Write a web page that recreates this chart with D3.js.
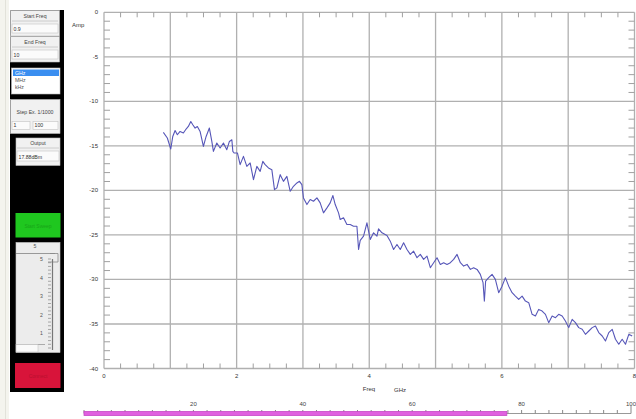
<!DOCTYPE html>
<html><head><meta charset="utf-8">
<script src="https://cdn.jsdelivr.net/npm/d3@7"></script>
<style>body{margin:0;background:#fff}svg{display:block;font-family:"Liberation Sans",Arial,sans-serif}</style>
</head><body><svg id="c" width="636" height="419"></svg>
<script>
// ---- data ----
const freqGHz = [0.895,0.955,1.007,1.037,1.072,1.106,1.147,1.197,1.238,1.272,1.309,1.339,1.374,1.408,1.449,1.499,1.540,1.589,1.626,1.650,
1.701,1.751,1.801,1.852,1.891,1.928,1.943,1.962,2.012,2.053,2.103,2.154,2.204,2.254,2.305,2.355,2.395,2.430,2.480,2.531,
2.571,2.607,2.657,2.706,2.758,2.808,2.857,2.909,2.948,2.984,3.008,3.060,3.109,3.159,3.211,3.260,3.310,3.362,3.411,3.452,
3.487,3.537,3.562,3.612,3.663,3.713,3.763,3.814,3.839,3.864,3.914,3.965,4.015,4.065,4.116,4.140,4.192,4.267,4.317,4.367,
4.418,4.468,4.518,4.569,4.619,4.669,4.720,4.770,4.820,4.871,4.921,4.971,5.022,5.072,5.122,5.173,5.223,5.273,5.324,5.374,
5.423,5.475,5.525,5.574,5.626,5.675,5.716,5.736,5.755,5.801,5.852,5.902,5.952,6.003,6.053,6.103,6.154,6.204,6.254,6.305,
6.355,6.405,6.456,6.506,6.555,6.607,6.657,6.706,6.758,6.808,6.857,6.909,6.958,7.008,7.060,7.109,7.159,7.211,7.260,7.311,
7.362,7.411,7.461,7.513,7.562,7.612,7.664,7.713,7.763,7.814,7.864,7.914,7.965];
const ampDb = [-13.49,-14.12,-15.35,-13.94,-13.27,-13.75,-13.38,-13.56,-13.11,-12.82,-12.26,-12.63,-13.00,-12.82,-13.38,-15.06,-13.94,-13.00,-14.50,-15.62,
-14.68,-15.24,-14.68,-15.43,-14.50,-14.31,-15.62,-15.80,-15.80,-17.11,-16.18,-17.30,-16.92,-18.79,-17.30,-17.86,-16.74,-17.11,-17.48,-17.67,
-19.91,-19.72,-18.23,-18.98,-18.42,-20.10,-19.54,-19.16,-18.98,-19.35,-20.84,-21.59,-21.03,-21.22,-20.84,-21.40,-22.52,-21.96,-21.40,-20.58,
-21.59,-22.52,-23.27,-23.08,-23.83,-23.83,-24.02,-24.02,-26.63,-25.62,-25.14,-23.64,-25.51,-24.76,-25.14,-24.31,-24.76,-25.06,-25.70,-26.63,
-26.07,-26.63,-25.88,-26.63,-27.19,-26.82,-27.56,-27.19,-27.75,-27.38,-28.68,-28.12,-27.56,-28.31,-28.12,-28.31,-28.12,-27.75,-27.19,-28.12,
-28.50,-28.31,-28.87,-28.68,-28.87,-29.43,-30.36,-32.43,-30.18,-29.80,-29.43,-29.99,-31.48,-30.75,-29.80,-30.75,-31.48,-31.87,-32.24,-31.87,
-32.43,-32.61,-33.92,-34.11,-33.36,-33.55,-33.92,-34.85,-34.11,-34.29,-33.92,-34.11,-34.67,-35.41,-34.48,-34.85,-35.41,-35.60,-36.16,-35.79,
-35.41,-35.23,-35.97,-36.35,-36.91,-35.97,-35.60,-36.72,-37.28,-36.72,-37.28,-36.16,-36.35];
const xTickValues = [0,2,4,6,8];
const xTickLabels = ["0","2","4","6","8"];
const yTickValues = [0,-5,-10,-15,-20,-25,-30,-35,-40];
const yTickLabels = ["0","-5","-10","-15","-20","-25","-30","-35","-40"];
const rulerTickValues = [20,40,60,80,100];
const rulerTickLabels = ["20","40","60","80","100"];
const rulerValue = 77.3;
const unitOptions = ["GHz","MHz","kHz"];
const panelTexts = {start:"Start Freq", startVal:"0.9", end:"End Freq", endVal:"10", step:"Step Ex. 1/1000",
  stepA:"1", stepB:"100", output:"Output", outputVal:"17.88dBm", green:"Start Sweep", red:"Connect"};
const sliderValues = [5,4,3,2,1,0.2];
const sliderLabels = ["5","4","3","2","1","0.2"];

const svg = d3.select("#c");

// ---- plot ----
const x = d3.scaleLinear().domain([0,8]).range([104,634.5]);
const y = d3.scaleLinear().domain([-40,0]).range([368.5,12.3]);
const g = svg.append("g");

// gridlines
g.selectAll("line.vg").data(d3.range(0,9)).join("line")
  .attr("x1",d=>x(d)).attr("x2",d=>x(d)).attr("y1",y(0)).attr("y2",y(-40))
  .attr("stroke","#b0b0b0").attr("stroke-width",1.3);
g.selectAll("line.hg").data(d3.range(-40,1,5)).join("line")
  .attr("class","hg")
  .attr("x1",x(0)).attr("x2",x(8)).attr("y1",d=>y(d)).attr("y2",d=>y(d))
  .attr("stroke","#b0b0b0").attr("stroke-width",1.3);

// minor ticks
const xMinor = d3.range(0,8.001,0.25).filter(v=>Math.abs(v-Math.round(v))>1e-6);
const yMinor = d3.range(-40,0.001,1).filter(v=>v%5!==0);
const tk = g.append("g").attr("stroke","#a0a0a0").attr("stroke-width",1);
xMinor.forEach(v=>{
  tk.append("line").attr("x1",x(v)).attr("x2",x(v)).attr("y1",y(-40)).attr("y2",y(-40)-5);
  tk.append("line").attr("x1",x(v)).attr("x2",x(v)).attr("y1",y(0)).attr("y2",y(0)+5);
});
yMinor.forEach(v=>{
  tk.append("line").attr("x1",x(0)).attr("x2",x(0)+6).attr("y1",y(v)).attr("y2",y(v));
  tk.append("line").attr("x1",x(8)).attr("x2",x(8)-6).attr("y1",y(v)).attr("y2",y(v));
});

// tick labels
g.selectAll("text.xl").data(xTickValues).join("text")
  .attr("x",d=>x(d)).attr("y",378).attr("text-anchor","middle")
  .attr("font-size",6).attr("fill","#333").text((d,i)=>xTickLabels[i]);
g.selectAll("text.yl").data(yTickValues).join("text")
  .attr("x",98).attr("y",d=>y(d)+2).attr("text-anchor","end")
  .attr("font-size",6).attr("fill","#333").text((d,i)=>yTickLabels[i]);
g.append("text").attr("x",72).attr("y",27).attr("font-size",6).attr("fill","#333").text("Amp");
g.append("text").attr("x",369).attr("y",391).attr("text-anchor","middle").attr("font-size",6).attr("fill","#333").text("Freq");
g.append("text").attr("x",394).attr("y",392).attr("font-size",6).attr("fill","#333").text("GHz");

// curve
const pts = freqGHz.map((f,i)=>[f,ampDb[i]]);
g.append("path").datum(pts)
  .attr("d",d3.line().x(d=>x(d[0])).y(d=>y(d[1])))
  .attr("fill","none").attr("stroke","#5656b8").attr("stroke-width",1.1).attr("stroke-linejoin","round");

// ---- bottom ruler ----
const r = d3.scaleLinear().domain([0,100]).range([84,631]);
const rg = svg.append("g");
rg.append("line").attr("x1",r(0)).attr("x2",r(100)).attr("y1",413.5).attr("y2",413.5).attr("stroke","#999");
rg.selectAll("line.rt").data(d3.range(0,100.01,2.5)).join("line")
  .attr("x1",d=>r(d)).attr("x2",d=>r(d)).attr("y1",413.5).attr("y2",d=>d===100?406:410)
  .attr("stroke","#888").attr("stroke-width",1);
rg.append("rect").attr("x",r(0)).attr("y",411.5).attr("width",r(rulerValue)-r(0)).attr("height",4)
  .attr("fill","#e060e0").attr("stroke","#c848c8").attr("stroke-width",0.8);
rg.selectAll("text").data(rulerTickValues).join("text")
  .attr("x",d=>r(d)).attr("y",406).attr("text-anchor","middle").attr("font-size",6).attr("fill","#444")
  .text((d,i)=>rulerTickLabels[i]);

// ---- left panel ----
const p = svg.append("g");
p.append("rect").attr("x",0).attr("y",0).attr("width",9).attr("height",419).attr("fill","#f4f4ee");
p.append("line").attr("x1",5.5).attr("x2",5.5).attr("y1",0).attr("y2",419).attr("stroke","#e2e2da");
p.append("rect").attr("x",10).attr("y",10).attr("width",54).attr("height",382).attr("fill","#000");

const fs = 5.2;
function box(x0,y0,w,h){ p.append("rect").attr("x",x0).attr("y",y0).attr("width",w).attr("height",h).attr("fill","#f1f1f1").attr("stroke","#bbb").attr("stroke-width",0.6); }
function txt(t,x0,y0,anchor,col,size){ p.append("text").attr("x",x0).attr("y",y0).attr("text-anchor",anchor||"start").attr("font-size",size||fs).attr("fill",col||"#444").text(t); }
function input(x0,y0,w,h,t){ p.append("rect").attr("x",x0).attr("y",y0).attr("width",w).attr("height",h).attr("fill","#fbfbfb").attr("stroke","#c4c4c4").attr("stroke-width",0.6); txt(t,x0+1.5,y0+h-2.5,"start","#333"); }

// Start / End freq
box(10.5,10.5,49,25.5); txt(panelTexts.start,35,17.5,"middle");
p.append("line").attr("x1",12).attr("x2",58).attr("y1",21).attr("y2",21).attr("stroke","#ccc");
input(12,24,46,9,panelTexts.startVal);
box(10.5,36.5,49,25.5); txt(panelTexts.end,35,43.5,"middle");
p.append("line").attr("x1",12).attr("x2",58).attr("y1",47).attr("y2",47).attr("stroke","#ccc");
input(12,50,46,9,panelTexts.endVal);

// unit list
p.append("rect").attr("x",11.5).attr("y",68).attr("width",48.5).attr("height",26).attr("fill","#fff").attr("stroke","#bbb").attr("stroke-width",0.6);
p.append("rect").attr("x",13).attr("y",69.5).attr("width",46).attr("height",6.5).attr("fill","#3a8ef0");
unitOptions.forEach((u,i)=>txt(u,15,75+i*6.8,"start",i===0?"#fff":"#555"));

// step
box(10.5,99.5,49.5,34); txt(panelTexts.step,35,113.5,"middle");
input(12,121.5,18,8,panelTexts.stepA); input(33,121.5,25,8,panelTexts.stepB);

// output
box(16,138,44,27.5); txt(panelTexts.output,38,144.5,"middle");
p.append("line").attr("x1",17).attr("x2",59).attr("y1",148).attr("y2",148).attr("stroke","#ccc");
input(17,151,42,10,panelTexts.outputVal);

// green button
p.append("rect").attr("x",15.5).attr("y",213).attr("width",45).attr("height",24.5).attr("fill","#1fc71f");
txt(panelTexts.green,38,227.5,"middle","#17a417",5);

// slider
const sv = d3.scaleLinear().domain([0.2,5]).range([348,259]);
p.append("rect").attr("x",16).attr("y",242.5).attr("width",44).attr("height",110).attr("fill","#ececec").attr("stroke","#ccc").attr("stroke-width",0.6);
txt("5",35,248,"middle","#555");
p.append("line").attr("x1",16).attr("x2",55).attr("y1",253.5).attr("y2",253.5).attr("stroke","#999");
p.append("path").attr("d","M50,253.5 L58,253.5 L58,262 M48,262 L58,262").attr("fill","none").attr("stroke","#888").attr("stroke-width",0.8);
p.append("line").attr("x1",52.5).attr("x2",52.5).attr("y1",259).attr("y2",350).attr("stroke","#777").attr("stroke-width",1.2);
p.selectAll("line.st").data(d3.range(0.2,5.001,0.2)).join("line")
  .attr("x1",48).attr("x2",51).attr("y1",d=>sv(d)).attr("y2",d=>sv(d)).attr("stroke","#888").attr("stroke-width",0.7);
sliderValues.forEach((v,i)=>txt(sliderLabels[i], i===sliderValues.length-1?35:43, sv(v)+2, "end","#555"));
p.append("line").attr("x1",16).attr("x2",45).attr("y1",344.5).attr("y2",344.5).attr("stroke","#aaa");
p.append("rect").attr("x",16).attr("y",344.5).attr("width",22).attr("height",7.5).attr("fill","#fafafa").attr("stroke","#bbb").attr("stroke-width",0.5);

// red button
p.append("rect").attr("x",15).attr("y",363).attr("width",45.5).attr("height",25).attr("fill","#d8143a");
txt(panelTexts.red,38,378,"middle","#b8102f",5);
</script></body></html>
